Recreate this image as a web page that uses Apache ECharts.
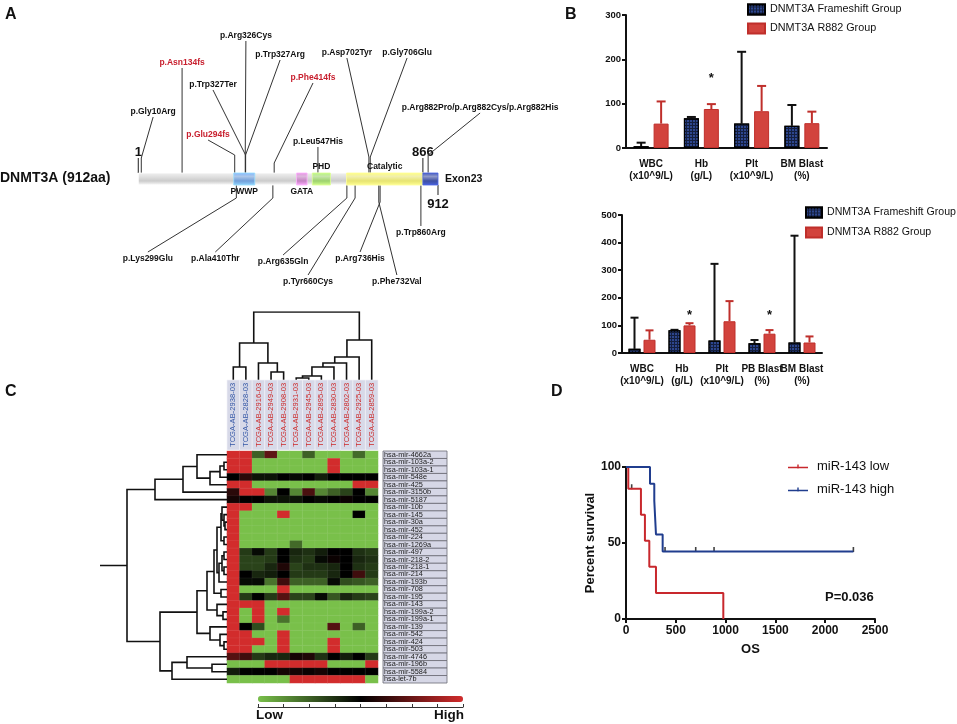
<!DOCTYPE html>
<html><head><meta charset="utf-8">
<script src="https://cdn.jsdelivr.net/npm/echarts@6/dist/echarts.min.js"></script>
<style>html,body{margin:0;padding:0;background:#fff}#c{width:957px;height:724px}</style>
</head><body><div id="c"></div>
<script>
// ================= DATA =================
// Panel A: DNMT3A protein (912 aa)
const proteinLength = 912;
const domainNames = ['', 'PWWP', 'GATA', 'PHD', 'Catalytic', 'Exon23'];
const domainStart = [1, 291, 482, 530, 634, 866];
const domainEnd   = [912, 355, 514, 585, 866, 912];
const markerPos = [1, 866, 912];
const mutNames = ['p.Gly10Arg','p.Asn134fs','p.Glu294fs','p.Trp327Ter','p.Arg326Cys','p.Trp327Arg','p.Phe414fs','p.Leu547His','p.Asp702Tyr','p.Gly706Glu','p.Arg882Pro/p.Arg882Cys/p.Arg882His',
                  'p.Lys299Glu','p.Ala410Thr','p.Arg635Gln','p.Tyr660Cys','p.Arg736His','p.Phe732Val','p.Trp860Arg'];
const mutPos = [10,134,294,327,326,327,414,547,702,706,882, 299,410,635,660,736,732,860];
const mutFrameshift = [false,true,true,false,false,false,true,false,false,false,false, false,false,false,false,false,false,false];

// Panel B
const fsName = 'DNMT3A Frameshift Group', rName = 'DNMT3A R882 Group';
const b1Cats = ['WBC\n(x10^9/L)', 'Hb\n(g/L)', 'Plt\n(x10^9/L)', 'BM Blast\n(%)'];
const b1FS = [4, 67, 55, 50];
const b1FSerr = [12, 70, 217, 97];
const b1R = [55, 88, 83, 56];
const b1Rerr = [105, 99, 140, 82];
const b1Sig = [false, true, false, false];
const b2Cats = ['WBC\n(x10^9/L)', 'Hb\n(g/L)', 'Plt\n(x10^9/L)', 'PB Blast\n(%)', 'BM Blast\n(%)'];
const b2FS = [15, 82, 45, 35, 38];
const b2FSerr = [128, 84, 323, 47, 425];
const b2R = [48, 100, 115, 70, 38];
const b2Rerr = [82, 108, 188, 83, 60];
const b2Sig = [false, true, false, true, false];

// Panel C: heatmap
const samples = ['TCGA-AB-2938-03','TCGA-AB-2828-03','TCGA-AB-2916-03','TCGA-AB-2949-03','TCGA-AB-2908-03','TCGA-AB-2931-03',
                 'TCGA-AB-2945-03','TCGA-AB-2895-03','TCGA-AB-2830-03','TCGA-AB-2802-03','TCGA-AB-2925-03','TCGA-AB-2859-03'];
const sampleGroup = [0,0,1,1,1,1,1,1,1,1,1,1];
const mirs = ['hsa-mir-4662a','hsa-mir-103a-2','hsa-mir-103a-1','hsa-mir-548e','hsa-mir-425','hsa-mir-3150b','hsa-mir-5187',
  'hsa-mir-10b','hsa-mir-145','hsa-mir-30a','hsa-mir-452','hsa-mir-224','hsa-mir-1269a','hsa-mir-497','hsa-mir-218-2',
  'hsa-mir-218-1','hsa-mir-214','hsa-mir-193b','hsa-mir-708','hsa-mir-195','hsa-mir-143','hsa-mir-199a-2','hsa-mir-199a-1',
  'hsa-mir-139','hsa-mir-542','hsa-mir-424','hsa-mir-503','hsa-mir-4746','hsa-mir-196b','hsa-mir-5584','hsa-let-7b'];
const expr = [
 [1,1,-0.5,0.45,-1,-1,-0.5,-1,-1,-1,-0.55,-1],
 [1,1,-1,-1,-1,-1,-1,-1,1,-1,-1,-1],
 [1,1,-1,-1,-1,-1,-1,-1,1,-1,-1,-1],
 [0,0.2,-0.1,-0.1,0,-0.05,0,-0.15,0,0,0,0],
 [1,1,-1,-1,-1,-1,-1,-1,-1,-1,1,1],
 [0.2,1,1,-0.7,0,-0.7,0.35,-0.7,-0.5,-0.35,0,-0.7],
 [0.1,0,0,-0.1,-0.1,-0.1,0,-0.05,0,0.05,0,0],
 [1,1,-1,-1,-1,-1,-1,-1,-1,-1,-1,-1],
 [1,-1,-1,-1,1,-1,-1,-1,-1,-1,0,-1],
 [1,-1,-1,-1,-1,-1,-1,-1,-1,-1,-1,-1],
 [1,-1,-1,-1,-1,-1,-1,-1,-1,-1,-1,-1],
 [1,-1,-1,-1,-1,-1,-1,-1,-1,-1,-1,-1],
 [1,-1,-1,-1,-1,-0.55,-1,-1,-1,-1,-1,-1],
 [1,-0.3,-0.05,-0.3,0,-0.2,-0.25,-0.15,0,0,-0.25,-0.3],
 [1,-0.35,-0.35,-0.3,0,-0.25,-0.3,-0.05,0.05,0,-0.2,-0.25],
 [1,-0.35,-0.35,-0.2,0.15,-0.35,-0.25,-0.25,-0.2,0,-0.25,-0.3],
 [1,0,-0.2,-0.15,0,-0.3,-0.3,-0.3,-0.2,0,0.3,-0.3],
 [1,-0.05,-0.05,-0.6,0.3,-0.5,-0.5,-0.5,-0.05,-0.4,-0.45,-0.5],
 [1,-1,-1,-1,1,-1,-1,-1,-1,-1,-1,-1],
 [1,-0.3,0,-0.3,0.4,-0.35,-0.35,-0.05,-0.45,-0.2,-0.3,-0.35],
 [1,1,1,-1,-1,-1,-1,-1,-1,-1,-1,-1],
 [1,-1,1,-1,1,-1,-1,-1,-1,-1,-1,-1],
 [1,-1,1,-1,-0.6,-1,-1,-1,-1,-1,-1,-1],
 [1,0,-0.4,-1,-1,-1,-1,-1,0.4,-1,-0.5,-1],
 [1,1,-1,-1,1,-1,-1,-1,-1,-1,-1,-1],
 [1,1,1,-1,1,-1,-1,-1,1,-1,-1,-1],
 [1,1,-1,-1,1,-1,-1,-1,1,-1,-1,-1],
 [0.4,0.3,-0.3,-0.2,-0.2,0.1,0.15,-0.25,0,-0.15,0,-0.3],
 [-1,-1,-1,1,1,1,1,1,-1,-1,-1,1],
 [-0.15,0,0,0,0.1,0.1,0.05,0.1,0,0,0,0],
 [-1,-1,-1,-1,-1,1,1,1,1,1,1,-1]
];
// dendrograms: [left, right, height]; leaves are indices
const colTree = [[[0,1,13],[2,[3,4,8],17],37],[[[[[[5,6,2],7,4],8,13],9,17],10,23],11,40],68];
const rowTree = [
  [[[0,[[[1,2,3],3,7],4,17],30],5,44],6,72],
  [[[[[[[7,[8,[9,10,2],3],5],[11,12,3],6],[[[13,14,3],[15,16,3],5],17,8],10],[18,19,6],13],[20,[21,22,4],10],20],[23,[24,[25,26,3],7],17],30],[[27,[28,29,15],40],30,55],67],
  100];
const colorbarTicks = [0,1,2,3,4,5,6,7,8];

// Panel D: Kaplan-Meier (time, survival %)
const lowT = [0, 23, 150, 190, 234, 301, 977];
const lowS = [100, 85.7, 68.6, 51.4, 34.3, 17.1, 0];
const lowCensT = [57]; const lowCensS = [85.7];
const highT = [0, 241, 284, 301, 368, 2283];
const highS = [100, 88.9, 77.8, 55.6, 44.4, 44.4];
const highCensT = [392, 700, 884, 2283]; const highCensS = [44.4, 44.4, 44.4, 44.4];

// ================= LAYOUT / STYLE =================
const F = 'Liberation Sans, Arial, Helvetica, sans-serif';
const domainColors = ['#c9c9c9', '#6a9ad8', '#c27cc0', '#98d066', '#e6e36a', '#34469e'];
const domainLabelSide = ['none','below','below','above','above','right'];
const markerSide = [1, 1, -1];
// callout layout: [tipX (aa units), tipY (px from bar centre), elbowY]
const callout = [[46,62,21],[134,111,111],[213,39,24],[228,89,24],[328,138,24],[432,119,24],[532,96,16],[547,32,32],[635,121,22],[818,121,22],[1040,66,24],
                 [30,-73,-19],[235,-73,-19],[441,-76,-19],[517,-96,-19],[675,-73,-23],[787,-96,-23],[860,-47,-47]];
const RED = '#d2433d', REDB = '#bf2f2b', NAVY = '#141f3f';
const fsDecal = {symbol:'rect', symbolSize:0.8, color:'#3f62c4', dashArrayX:[2,1], dashArrayY:[2,1]};
const kmIcon = 'path://M0,4.2h20v1.6h-20z M9.3,2h1.4v4h-1.4z';

function lift(c, v){ return echarts.color.lift(c, v); }

function dendroSegments(tree, vertical){
  const segs = [];
  function walk(n){
    if (typeof n === 'number') return {p:n, h:0};
    const a = walk(n[0]), b = walk(n[1]), h = n[2];
    const pts = vertical ? [[a.p,a.h],[a.p,h],[b.p,h],[b.p,b.h]] : [[a.h,a.p],[h,a.p],[h,b.p],[b.h,b.p]];
    segs.push({coords: pts});
    return {p:(a.p+b.p)/2, h:h};
  }
  const r = walk(tree);
  return {segs, root:r};
}
const colD = dendroSegments(colTree, true);
const rowD = dendroSegments(rowTree, false);
rowD.segs.push({coords:[[rowD.root.h, rowD.root.p],[127, rowD.root.p]]});

function errBarSeries(name, gi, cats, vals, errs, sig, offset, capW, color, starLevel){
  return {type:'custom', name:name+' err', xAxisIndex:gi, yAxisIndex:gi, z:1, silent:true,
    data: vals.map((v,i)=>[i, v, errs[i]]),
    renderItem(params, api){
      const i = params.dataIndex;
      const pv = api.coord([i, api.value(1)]), pe = api.coord([i, api.value(2)]);
      const x = pv[0] + offset;
      const ch = [
        {type:'line', shape:{x1:x,y1:pv[1],x2:x,y2:pe[1]}, style:{stroke:color,lineWidth:2}},
        {type:'line', shape:{x1:x-capW/2,y1:pe[1],x2:x+capW/2,y2:pe[1]}, style:{stroke:color,lineWidth:2}}
      ];
      if (sig && sig[i]) {
        const ps = api.coord([i, starLevel]);
        ch.push({type:'text', x:x, y:ps[1], style:{text:'*', fill:'#111', font:'bold 13px '+F, align:'center', verticalAlign:'middle'}});
      }
      return {type:'group', children:ch};
    }};
}

const axisBlack = {lineStyle:{color:'#111', width:2}};
const grids = [
  {left:138, top:29, width:300, height:310},   // 0 A
  {left:626, top:15, width:201, height:133},   // 1 B top
  {left:622, top:215, width:200, height:138},  // 2 B bottom
  {left:227, top:451, width:151, height:232},  // 3 heatmap
  {left:100, top:451, width:127, height:232},  // 4 row dendro
  {left:227, top:312, width:151, height:68},   // 5 col dendro
  {left:227, top:380, width:151, height:70},   // 6 col labels
  {left:383, top:451, width:64, height:232},   // 7 row labels
  {left:258, top:706, width:205, height:1},    // 8 colorbar ticks
  {left:626, top:467, width:249, height:152}   // 9 KM
];
const hidden = {show:false};
const xAxes = [
  {gridIndex:0, type:'value', min:0, max:proteinLength, show:false},
  {gridIndex:1, type:'category', data:b1Cats, axisLine:axisBlack, axisTick:{alignWithLabel:true, length:4, lineStyle:{color:'#111',width:2}},
    axisLabel:{color:'#111', fontWeight:'bold', fontSize:10, fontFamily:F, lineHeight:12, margin:10, interval:0}},
  {gridIndex:2, type:'category', data:b2Cats, axisLine:axisBlack, axisTick:{alignWithLabel:true, length:4, lineStyle:{color:'#111',width:2}},
    axisLabel:{color:'#111', fontWeight:'bold', fontSize:10, fontFamily:F, lineHeight:12, margin:10, interval:0}},
  {gridIndex:3, type:'category', data:samples, show:false},
  {gridIndex:4, type:'value', min:0, max:127, inverse:true, show:false},
  {gridIndex:5, type:'value', min:-0.5, max:11.5, show:false},
  {gridIndex:6, type:'category', data:samples, show:false},
  {gridIndex:7, type:'value', min:0, max:1, show:false},
  {gridIndex:8, type:'value', min:0, max:8, interval:1, axisLine:{lineStyle:{color:'#333',width:1}}, axisTick:{inside:true,length:3,lineStyle:{color:'#333'}}, axisLabel:hidden, splitLine:hidden},
  {gridIndex:9, type:'value', min:0, max:2500, interval:500, name:'OS', nameLocation:'middle', nameGap:24,
    nameTextStyle:{fontWeight:'bold', fontSize:13, color:'#111', fontFamily:F},
    axisLine:axisBlack, axisTick:{length:4, lineStyle:{color:'#111',width:2}}, splitLine:hidden,
    axisLabel:{color:'#111', fontWeight:'bold', fontSize:12, fontFamily:F, margin:6, formatter:v=>String(v)}}
];
const yAxes = [
  {gridIndex:0, type:'value', min:-160, max:150, show:false},
  {gridIndex:1, type:'value', min:0, max:300, interval:100, axisLine:{show:true, lineStyle:{color:'#111',width:2}}, axisTick:{show:true,length:4,lineStyle:{color:'#111',width:2}}, splitLine:hidden,
    axisLabel:{color:'#111', fontWeight:'bold', fontSize:9.5, fontFamily:F, margin:5}},
  {gridIndex:2, type:'value', min:0, max:500, interval:100, axisLine:{show:true, lineStyle:{color:'#111',width:2}}, axisTick:{show:true,length:4,lineStyle:{color:'#111',width:2}}, splitLine:hidden,
    axisLabel:{color:'#111', fontWeight:'bold', fontSize:9.5, fontFamily:F, margin:5}},
  {gridIndex:3, type:'category', data:mirs, inverse:true, show:false},
  {gridIndex:4, type:'value', min:-0.5, max:30.5, inverse:true, show:false},
  {gridIndex:5, type:'value', min:0, max:68, show:false},
  {gridIndex:6, type:'value', min:0, max:1, show:false},
  {gridIndex:7, type:'value', min:-0.5, max:30.5, inverse:true, show:false},
  {gridIndex:8, type:'value', show:false},
  {gridIndex:9, type:'value', min:0, max:100, interval:50, name:'Percent survival', nameLocation:'middle', nameGap:28,
    nameTextStyle:{fontWeight:'bold', fontSize:13, color:'#111', fontFamily:F},
    axisLine:{show:true, lineStyle:{color:'#111',width:2}}, axisTick:{show:true,length:4,lineStyle:{color:'#111',width:2}}, splitLine:hidden,
    axisLabel:{color:'#111', fontWeight:'bold', fontSize:12, fontFamily:F, margin:5}}
];

const series = [
  // ---- A: protein bar
  {type:'custom', xAxisIndex:0, yAxisIndex:0, clip:false, silent:true, z:3,
    data: domainStart.map((s,i)=>[s, 0]),
    renderItem(params, api){
      const i = params.dataIndex;
      const p1 = api.coord([domainStart[i], 6]), p2 = api.coord([domainEnd[i], -6]);
      const c = domainColors[i];
      const ch = [{type:'rect', shape:{x:p1[0], y:p1[1], width:p2[0]-p1[0], height:p2[1]-p1[1]},
        style:{fill:{type:'linear',x:0,y:0,x2:0,y2:1,colorStops:[{offset:0,color:lift(c,-0.2)},{offset:0.3,color:lift(c,0.45)},{offset:0.65,color:lift(c,0.05)},{offset:1,color:lift(c,-0.4)}]},
          stroke:lift(c,-0.45), lineWidth:0.8}}];
      const side = domainLabelSide[i];
      const mx = (p1[0]+p2[0])/2;
      if (side==='below') ch.push({type:'text', x:mx, y:p2[1]+2, style:{text:domainNames[i], font:'bold 8.5px '+F, fill:'#111', align:'center', verticalAlign:'top'}});
      if (side==='above') ch.push({type:'text', x:mx, y:p1[1]-2, style:{text:domainNames[i], font:'bold 8.5px '+F, fill:'#111', align:'center', verticalAlign:'bottom'}});
      if (side==='right') ch.push({type:'text', x:p2[0]+7, y:(p1[1]+p2[1])/2, style:{text:domainNames[i], font:'bold 10.5px '+F, fill:'#111', align:'left', verticalAlign:'middle'}});
      return {type:'group', children:ch};
    }},
  // ---- A: position markers
  {type:'custom', xAxisIndex:0, yAxisIndex:0, clip:false, silent:true, z:2,
    data: markerPos.map(p=>[p,0]),
    renderItem(params, api){
      const i = params.dataIndex, s = markerSide[i], p = markerPos[i];
      const a = api.coord([p, 6*s]), b = api.coord([p, s>0?21:-16]);
      return {type:'group', children:[
        {type:'line', shape:{x1:a[0],y1:a[1],x2:b[0],y2:b[1]}, style:{stroke:'#444', lineWidth:1.2}},
        {type:'text', x:b[0], y:b[1]+(s>0?1:3), style:{text:String(p), font:'bold 13px '+F, fill:'#111', align:'center', verticalAlign:s>0?'bottom':'top'}}
      ]};
    }},
  // ---- A: mutation callouts
  {type:'custom', xAxisIndex:0, yAxisIndex:0, clip:false, silent:true, z:2,
    data: mutPos.map((p,i)=>[p, callout[i][1]]),
    renderItem(params, api){
      const i = params.dataIndex, L = callout[i], s = L[1] > 0 ? 1 : -1;
      const p0 = api.coord([mutPos[i], 6*s]), pe = api.coord([mutPos[i], L[2]]), pt = api.coord([L[0], L[1]]);
      return {type:'group', children:[
        {type:'polyline', shape:{points:[p0,pe,pt]}, style:{stroke:'#333', lineWidth:1, fill:null}},
        {type:'text', x:pt[0], y:pt[1]+(s>0?-1:2), style:{text:mutNames[i], font:'bold 8.5px '+F, fill: mutFrameshift[i]?'#c8202f':'#111', align:'center', verticalAlign:s>0?'bottom':'top'}}
      ]};
    }},
  // ---- B top
  {type:'bar', name:fsName, xAxisIndex:1, yAxisIndex:1, data:b1FS, barWidth:15, barGap:'33%', z:2,
    itemStyle:{color:NAVY, borderColor:'#000', borderWidth:1.2, decal:fsDecal}},
  {type:'bar', name:rName, xAxisIndex:1, yAxisIndex:1, data:b1R, barWidth:15, z:2,
    itemStyle:{color:RED, borderColor:REDB, borderWidth:1}},
  errBarSeries(fsName, 1, b1Cats, b1FS, b1FSerr, null, -10, 9, '#111', 0),
  errBarSeries(rName, 1, b1Cats, b1R, b1Rerr, b1Sig, 10, 9, REDB, 156),
  // ---- B bottom
  {type:'bar', name:fsName, xAxisIndex:2, yAxisIndex:2, data:b2FS, barWidth:12, barGap:'25%', z:2,
    itemStyle:{color:NAVY, borderColor:'#000', borderWidth:1.2, decal:fsDecal}},
  {type:'bar', name:rName, xAxisIndex:2, yAxisIndex:2, data:b2R, barWidth:12, z:2,
    itemStyle:{color:RED, borderColor:REDB, borderWidth:1}},
  errBarSeries(fsName, 2, b2Cats, b2FS, b2FSerr, null, -7.5, 8, '#111', 0),
  errBarSeries(rName, 2, b2Cats, b2R, b2Rerr, b2Sig, 7.5, 8, REDB, 137),
  // ---- C heatmap
  {type:'heatmap', xAxisIndex:3, yAxisIndex:3, silent:true,
    data: expr.flatMap((row,r)=>row.map((v,c)=>[c, r, v])),
    itemStyle:{borderColor:'rgba(255,255,255,0.12)', borderWidth:0.5}},
  // row dendrogram
  {type:'lines', coordinateSystem:'cartesian2d', xAxisIndex:4, yAxisIndex:4, polyline:true, silent:true,
    data: rowD.segs, lineStyle:{color:'#111', width:1.6, opacity:1}},
  // column dendrogram
  {type:'lines', coordinateSystem:'cartesian2d', xAxisIndex:5, yAxisIndex:5, polyline:true, silent:true,
    data: colD.segs, lineStyle:{color:'#111', width:1.6, opacity:1}},
  // column labels
  {type:'custom', xAxisIndex:6, yAxisIndex:6, silent:true,
    data: samples.map((s,i)=>[i, 0]),
    renderItem(params, api){
      const i = params.dataIndex, b = api.coord([i,0]), t = api.coord([i,1]), w = api.size([1,0])[0];
      return {type:'group', children:[
        {type:'rect', shape:{x:b[0]-w/2, y:t[1], width:w, height:b[1]-t[1]}, style:{fill:'#d7d9e8', stroke:'#f4f4f8', lineWidth:0.6}},
        {type:'text', x:b[0], y:b[1]-3, rotation:Math.PI/2, style:{text:samples[i], font:'7.6px '+F, fill: sampleGroup[i]===0?'#3457a6':'#cc2a2a', align:'left', verticalAlign:'middle'}}
      ]};
    }},
  // row labels
  {type:'custom', xAxisIndex:7, yAxisIndex:7, silent:true,
    data: mirs.map((m,i)=>[0, i]),
    renderItem(params, api){
      const i = params.dataIndex, a = api.coord([0, i-0.5]), b = api.coord([1, i+0.5]);
      return {type:'group', children:[
        {type:'rect', shape:{x:a[0], y:a[1], width:b[0]-a[0], height:b[1]-a[1]}, style:{fill:'#d6d7e6', stroke:'#6a6a74', lineWidth:0.8}},
        {type:'text', x:a[0]+1, y:(a[1]+b[1])/2, style:{text:mirs[i], font:'7.3px '+F, fill:'#1a1a1a', align:'left', verticalAlign:'middle'}}
      ]};
    }},
  // colorbar tick axis carrier
  {type:'scatter', xAxisIndex:8, yAxisIndex:8, data: colorbarTicks.map(t=>[t,0]), symbolSize:0, silent:true},
  // ---- D KM
  {type:'line', name:'miR-143 low', xAxisIndex:9, yAxisIndex:9, step:'end', symbol:'none', data: lowT.map((t,i)=>[t, lowS[i]]),
    lineStyle:{color:'#c8282d', width:2}, itemStyle:{color:'#c8282d'}},
  {type:'line', name:'miR-143 high', xAxisIndex:9, yAxisIndex:9, step:'end', symbol:'none', data: highT.map((t,i)=>[t, highS[i]]),
    lineStyle:{color:'#203d8e', width:2}, itemStyle:{color:'#203d8e'}},
  {type:'scatter', xAxisIndex:9, yAxisIndex:9, symbol:'rect', symbolSize:[1.6,5], symbolOffset:[0,-2], silent:true,
    data: lowCensT.map((t,i)=>[t, lowCensS[i]]).concat(highCensT.map((t,i)=>[t, highCensS[i]])), itemStyle:{color:'#111'}}
];

const option = {
  backgroundColor:'#fff', animation:false,
  textStyle:{fontFamily:F},
  grid: grids, xAxis: xAxes, yAxis: yAxes, series,
  visualMap: {type:'continuous', seriesIndex:11, min:-1, max:1, orient:'horizontal', left:258, top:696, itemWidth:6, itemHeight:205,
    padding:0, calculable:false, text:['',''], showLabel:false, hoverLink:false,
    inRange:{color:['#79c04a','#000000','#d22c2c']}},
  legend: [
    {left:747, top:3, padding:0, orient:'vertical', icon:'rect', itemWidth:17, itemHeight:10, itemGap:6, data:[fsName, rName], selectedMode:false,
      textStyle:{fontSize:10.8, lineHeight:13, color:'#111', fontFamily:F}},
    {left:805, top:206, padding:0, orient:'vertical', icon:'rect', itemWidth:16, itemHeight:10, itemGap:7, data:[fsName, rName], selectedMode:false,
      textStyle:{fontSize:10.6, lineHeight:13, color:'#111', fontFamily:F}},
    {left:788, top:459, padding:0, orient:'vertical', itemWidth:20, itemHeight:8, itemGap:8, selectedMode:false,
      data:[{name:'miR-143 low', icon:kmIcon},{name:'miR-143 high', icon:kmIcon}],
      textStyle:{fontSize:13, lineHeight:15, color:'#111', fontFamily:F, padding:[0,0,0,4]}}
  ],
  graphic: [
    {type:'text', left:5, top:7, style:{text:'A', font:'bold 16px '+F, fill:'#111'}},
    {type:'text', left:565, top:7, style:{text:'B', font:'bold 16px '+F, fill:'#111'}},
    {type:'text', left:5, top:384, style:{text:'C', font:'bold 16px '+F, fill:'#111'}},
    {type:'text', left:551, top:384, style:{text:'D', font:'bold 16px '+F, fill:'#111'}},
    {type:'text', left:0, top:171, style:{text:'DNMT3A (912aa)', font:'bold 14px '+F, fill:'#111'}},
    {type:'text', left:256, top:708, style:{text:'Low', font:'bold 13.5px '+F, fill:'#111'}},
    {type:'text', right:957-464, top:708, style:{text:'High', font:'bold 13.5px '+F, fill:'#111'}},
    {type:'text', left:825, top:591, style:{text:'P=0.036', font:'bold 13px '+F, fill:'#111'}}
  ]
};
const chart = echarts.init(document.getElementById('c'), null, {renderer:'canvas', width:957, height:724});
chart.setOption(option);
</script>
</body></html>
